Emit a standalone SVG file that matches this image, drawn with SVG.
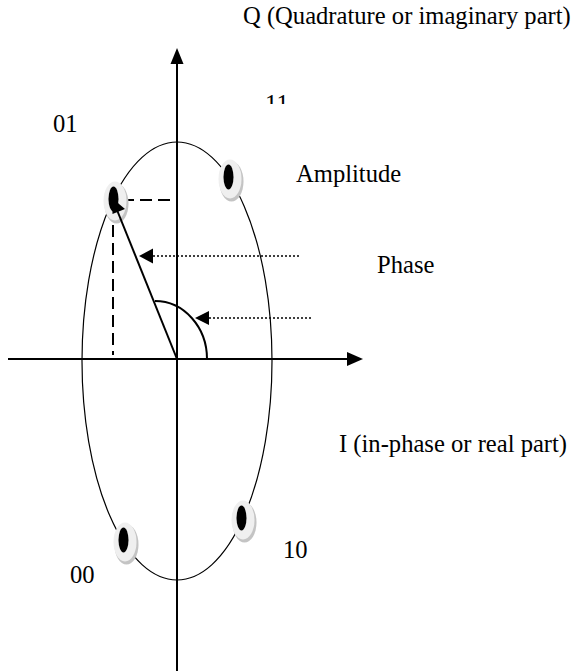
<svg xmlns="http://www.w3.org/2000/svg" width="573" height="672" viewBox="0 0 573 672">
<style>
.t{font-family:"Liberation Serif","Times New Roman",serif;font-size:24.6px;fill:#000}
.axis{stroke:#000;stroke-width:2;fill:none}
.thin{stroke:#000;stroke-width:1.2;fill:none}
.dash{stroke:#000;stroke-width:2;fill:none;stroke-dasharray:12 6}
.dot{stroke:#000;stroke-width:1.6;fill:none;stroke-dasharray:2 2}
.head{fill:#000}
</style>
<defs>
<clipPath id="c11"><rect x="250" y="90" width="60" height="14"/></clipPath>
<g id="pt">
<ellipse cx="1.5" cy="2.5" rx="12" ry="20" fill="#c4c4c4"/>
<ellipse cx="0" cy="0" rx="11.5" ry="19.5" fill="#efefef"/>
<ellipse cx="-1.5" cy="-2" rx="5" ry="12.5" fill="#000"/>
</g>
</defs>
<rect width="573" height="672" fill="#fff"/>
<g id="connectors">
<ellipse class="thin" cx="177" cy="361" rx="95" ry="219"/>
<line class="axis" x1="177" y1="60" x2="177" y2="671"/>
<polygon class="head" points="177,48 170.5,64 183.5,64"/>
<line class="axis" x1="8" y1="359" x2="350" y2="359"/>
<polygon class="head" points="363,359 347,352 347,366"/>
<line class="dash" x1="122" y1="200" x2="171" y2="200"/>
<line class="dash" x1="113" y1="207" x2="113" y2="355"/>
<path class="axis" d="M207,359 A52,58 0 0 0 155,301"/>
<line class="dot" x1="153" y1="256" x2="301" y2="256"/>
<polygon class="head" points="139,256 153,248.5 153,263.5"/>
<line class="dot" x1="209" y1="318" x2="313" y2="318"/>
<polygon class="head" points="195,318 209,311 209,325"/>
</g>
<g id="p01"><use href="#pt" x="115" y="201"/></g>
<g id="p11"><use href="#pt" x="230" y="179"/></g>
<g id="p00"><use href="#pt" x="125" y="542"/></g>
<g id="p10"><use href="#pt" x="243" y="520"/></g>
<g id="amplitude-vector">
<line class="axis" x1="177" y1="359" x2="117" y2="210"/>
<polygon class="head" points="112,198 125,209 112.5,214"/>
</g>
<g id="labels">
<text class="t" x="243" y="24">Q (Quadrature or imaginary part)</text>
<text class="t" x="265" y="112" clip-path="url(#c11)">11</text>
<text class="t" x="53" y="132">01</text>
<text class="t" x="296" y="182">Amplitude</text>
<text class="t" x="377" y="273">Phase</text>
<text class="t" x="339" y="452">I (in-phase or real part)</text>
<text class="t" x="283" y="558">10</text>
<text class="t" x="70" y="583">00</text>
</g>
</svg>
